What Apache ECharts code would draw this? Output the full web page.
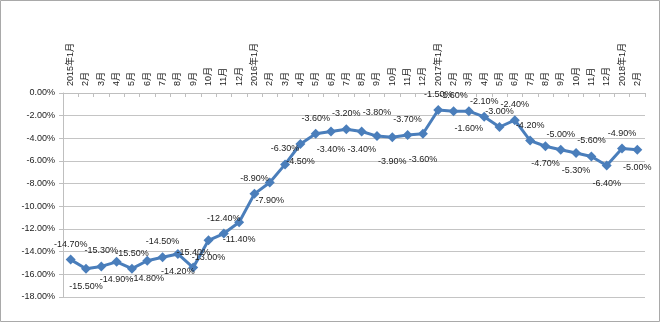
<!DOCTYPE html>
<html>
<head>
<meta charset="utf-8">
<script src="https://cdn.jsdelivr.net/npm/echarts@6/dist/echarts.min.js"></script>
<style>
  html, body { margin: 0; padding: 0; background: #fff; }
  #chart { width: 660px; height: 322px; }
</style>
</head>
<body>
<div id="chart"></div>
<script>
// Monthly categories, Jan 2015 – Feb 2018
const months = [
  '2015年1月','2月','3月','4月','5月','6月','7月','8月','9月','10月','11月','12月',
  '2016年1月','2月','3月','4月','5月','6月','7月','8月','9月','10月','11月','12月',
  '2017年1月','2月','3月','4月','5月','6月','7月','8月','9月','10月','11月','12月',
  '2018年1月','2月'
];

// Year-on-year change, percent
const values = [
  -14.7, -15.5, -15.3, -14.9, -15.5, -14.8, -14.5, -14.2, -15.4, -13.0, -12.4, -11.4,
  -8.9, -7.9, -6.3, -4.5, -3.6, -3.4, -3.2, -3.4, -3.8, -3.9, -3.7, -3.6,
  -1.5, -1.6, -1.6, -2.1, -3.0, -2.4, -4.2, -4.7, -5.0, -5.3, -5.6, -6.4,
  -4.9, -5.0
];

// Which side of each point its value label sits on
const labelSide = [
  'top','bottom','top','bottom','top','bottom','top','bottom','top','bottom','top','bottom',
  'top','bottom','top','bottom','top','bottom','top','bottom','top','bottom','top','bottom',
  'top','top','bottom','top','top','top','top','bottom','top','bottom','top','bottom',
  'top','bottom'
];

// Labels pushed further away from crowded points (index -> distance)
const labelFar = { 20: 14, 21: 15, 23: 16 };

// Y axis range and step
const yMin = -18, yMax = 0, yStep = 2;

const pct = v => v.toFixed(2) + '%';
const textFont = '"Liberation Sans", "Noto Sans CJK SC", sans-serif';
const lineBlue = '#4a7ebb';

const seriesData = values.map((v, i) => ({
  value: v,
  label: {
    position: labelSide[i],
    distance: labelFar[i] !== undefined ? labelFar[i] : (labelSide[i] === 'top' ? 6 : 8)
  }
}));

const chart = echarts.init(document.getElementById('chart'), null, { renderer: 'canvas' });
chart.setOption({
  animation: false,
  backgroundColor: '#ffffff',
  graphic: [{
    type: 'rect',
    shape: { x: 0.5, y: 0.5, width: 659, height: 321 },
    style: { fill: 'none', stroke: '#a9a9a9', lineWidth: 1 },
    silent: true
  }],
  grid: { left: 63, right: 15, top: 93, bottom: 25, containLabel: false },
  xAxis: {
    type: 'category',
    position: 'top',
    data: months,
    boundaryGap: true,
    axisLine: { show: true, lineStyle: { color: '#bfbfbf', width: 1 } },
    axisTick: { show: true, inside: true, length: 4, interval: 0, lineStyle: { color: '#bfbfbf' } },
    axisLabel: {
      interval: 0,
      rotate: 90,
      margin: 7,
      fontSize: 9,
      color: '#222',
      fontFamily: textFont
    },
    splitLine: { show: false }
  },
  yAxis: {
    type: 'value',
    min: yMin,
    max: yMax,
    interval: yStep,
    axisLine: { show: true, lineStyle: { color: '#bfbfbf', width: 1 } },
    axisTick: { show: true, length: 4, lineStyle: { color: '#bfbfbf' } },
    axisLabel: {
      formatter: v => pct(v),
      fontSize: 9,
      margin: 8,
      color: '#222',
      fontFamily: textFont
    },
    splitLine: { show: true, lineStyle: { color: '#c4c4c4', width: 1 } }
  },
  series: [{
    type: 'line',
    data: seriesData,
    symbol: 'diamond',
    symbolSize: 10,
    lineStyle: { color: lineBlue, width: 3 },
    itemStyle: { color: lineBlue },
    label: {
      show: true,
      formatter: p => pct(p.value),
      fontSize: 9,
      color: '#222',
      fontFamily: textFont
    },
    labelLayout: { hideOverlap: false }
  }]
});
</script>
</body>
</html>
